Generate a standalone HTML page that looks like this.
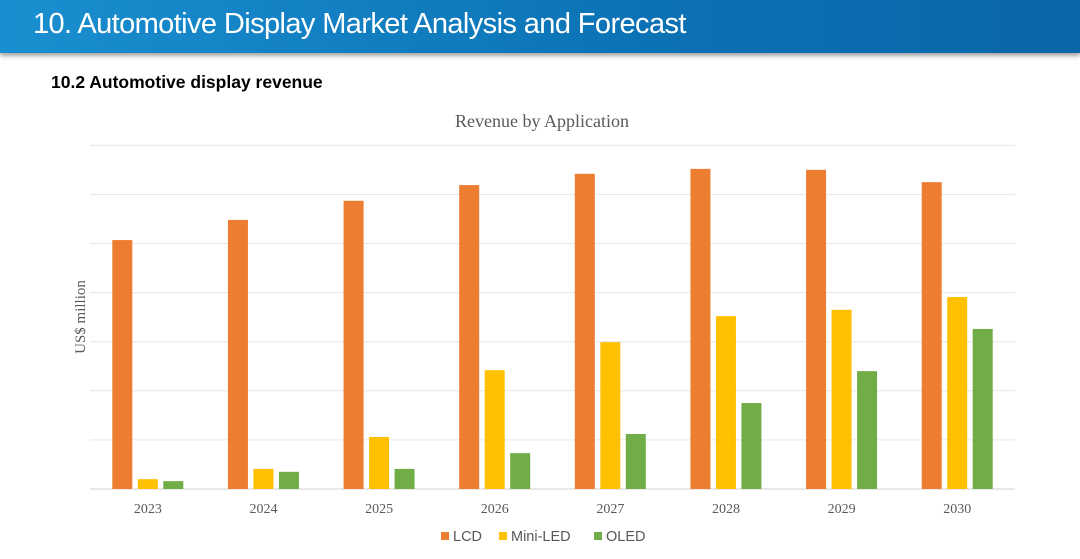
<!DOCTYPE html>
<html><head><meta charset="utf-8"><style>
body{margin:0;width:1080px;height:559px;background:#fff;overflow:hidden;font-family:"Liberation Sans",sans-serif;position:relative}
#hdr{position:absolute;left:0;top:0;width:1080px;height:53px;background:linear-gradient(90deg,#1a8fd0,#0b72b5 60%,#0a66a8);box-shadow:0 3px 4px rgba(0,0,0,.35)}
#hdr span{position:absolute;left:33px;top:8px;color:#fff;font-size:29px;letter-spacing:-0.6px}
#sub{position:absolute;left:51px;top:72px;font-size:17.5px;font-weight:bold;color:#000}
</style></head><body>
<div id="hdr"><span>10. Automotive Display Market Analysis and Forecast</span></div>
<div id="sub">10.2 Automotive display revenue</div>
<svg id="chart" width="1080" height="559" style="position:absolute;left:0;top:0"></svg>
<script>
const categories=["2023","2024","2025","2026","2027","2028","2029","2030"];
const seriesNames=["LCD","Mini-LED","OLED"];
const lcd=[5.07,5.48,5.87,6.19,6.42,6.52,6.50,6.25];
const miniLed=[0.20,0.41,1.06,2.42,2.99,3.52,3.65,3.91];
const oled=[0.16,0.35,0.41,0.73,1.12,1.75,2.40,3.26];
const gridTicks=[0,1,2,3,4,5,6,7];
const colors=["#ED7D31","#FFC000","#70AD47"];
const series=[lcd,miniLed,oled];
const svg=document.getElementById('chart');const NS='http://www.w3.org/2000/svg';
const x0=90,x1=1015,yBase=489,unit=49.1;
const bw=(x1-x0)/categories.length;
const y=v=>yBase-v*unit;
function mk(t,a){const e=document.createElementNS(NS,t);for(const k in a)e.setAttribute(k,a[k]);svg.appendChild(e);return e;}
gridTicks.forEach(t=>{const l=mk('line',{x1:x0,x2:x1,y1:y(t),y2:y(t),stroke:t===0?'#d0d0d0':'#e6e6e6','stroke-width':1});

});
const tt=mk('text',{x:542,y:127,'text-anchor':'middle','font-family':'Liberation Serif,serif','font-size':18,fill:'#595959'});tt.textContent='Revenue by Application';


const yt=mk('text',{x:0,y:0,transform:'translate(85,317) rotate(-90)','text-anchor':'middle','font-family':'Liberation Serif,serif','font-size':15,fill:'#595959'});yt.textContent='US$ million';


categories.forEach((c,i)=>{const cx=x0+bw*(i+0.5);
series.forEach((s,j)=>{const bx=cx+(j-1)*25.5-10;const r=mk('rect',{x:bx,y:y(s[i]),width:20,height:s[i]*unit,fill:colors[j]});

});
const t=mk('text',{x:cx,y:513,'text-anchor':'middle','font-family':'Liberation Serif,serif','font-size':14,fill:'#595959'});t.textContent=c;

});
const legX=[441,499,594];
seriesNames.forEach((n,j)=>{const r=mk('rect',{x:legX[j],y:532,width:8,height:8,fill:colors[j]});


const t=mk('text',{x:legX[j]+12,y:541,'font-family':'Liberation Sans,sans-serif','font-size':14.5,fill:'#595959'});t.textContent=n;

});
</script>
</body></html>
